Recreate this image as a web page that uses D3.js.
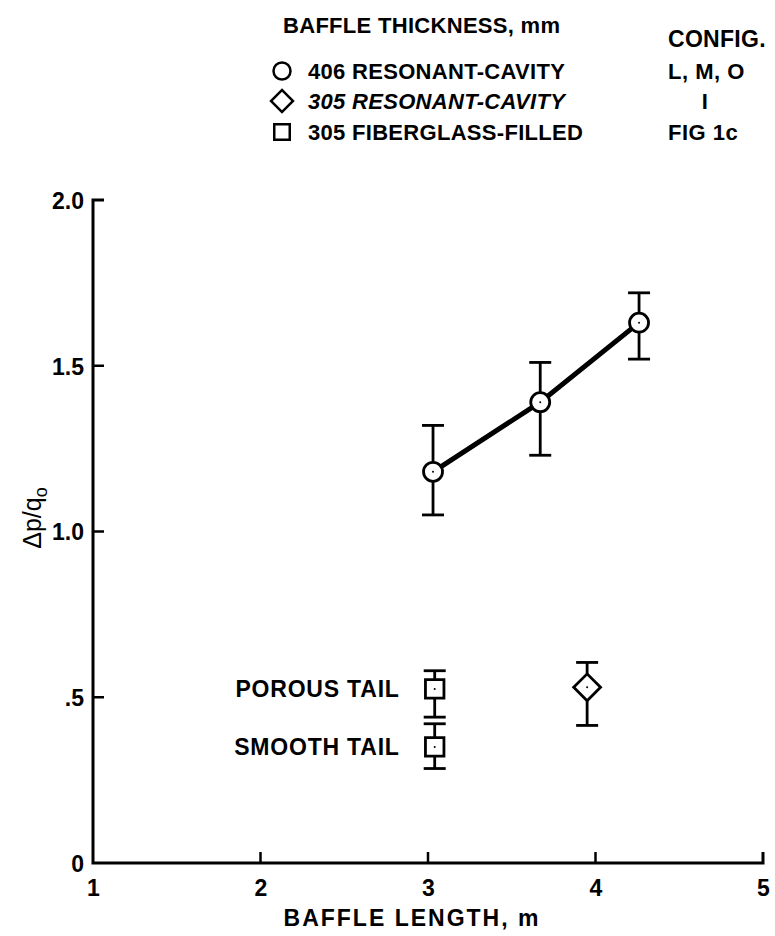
<!DOCTYPE html>
<html>
<head>
<meta charset="utf-8">
<script src="https://cdn.jsdelivr.net/npm/d3@7"></script>
<style>
  html, body { margin: 0; padding: 0; background: #fff; }
  svg text { font-family: "Liberation Sans", Arial, Helvetica, sans-serif; font-weight: bold; fill: #000; }
</style>
</head>
<body>
<svg id="chart" width="775" height="936"></svg>
<script>
// Baffle thickness 406 mm, resonant-cavity (configs L, M, O)
const cavity406Length = [3.03, 3.67, 4.26];
const cavity406Value  = [1.18, 1.39, 1.63];
const cavity406Low    = [1.05, 1.23, 1.52];
const cavity406High   = [1.32, 1.51, 1.72];

// Baffle thickness 305 mm, resonant-cavity (config I)
const cavity305Length = [3.95];
const cavity305Value  = [0.53];
const cavity305Low    = [0.415];
const cavity305High   = [0.605];

// Baffle thickness 305 mm, fiberglass-filled (Fig 1c)
const fiberLength = [3.04, 3.04];
const fiberValue  = [0.525, 0.35];
const fiberLow    = [0.44, 0.285];
const fiberHigh   = [0.58, 0.42];
const fiberNames  = ["POROUS TAIL", "SMOOTH TAIL"];

// Axis ticks
const xTicks = [1, 2, 3, 4, 5];
const xTickLabels = ["1", "2", "3", "4", "5"];
const yTicks = [0, 0.5, 1.0, 1.5, 2.0];
const yTickLabels = ["0", ".5", "1.0", "1.5", "2.0"];

// Legend
const legendTitle = "BAFFLE THICKNESS, mm";
const configTitle = "CONFIG.";
const legendSymbols = ["circle", "diamond", "square"];
const legendLabels = ["406 RESONANT-CAVITY", "305 RESONANT-CAVITY", "305 FIBERGLASS-FILLED"];
const configLabels = ["L, M, O", "I", "FIG 1c"];

const svg = d3.select("#chart");

const x = d3.scaleLinear().domain([1, 5]).range([93, 763]);
const y = d3.scaleLinear().domain([0, 2]).range([863, 200]);

const FS = 23;   // plot lettering
const LFS = 22;  // legend lettering

// ---- axes ----
const xAxis = d3.axisBottom(x).tickValues(xTicks).tickSize(0).tickFormat((d, i) => xTickLabels[i]);
const gx = svg.append("g").attr("transform", `translate(0,${y(0)})`).call(xAxis);
gx.select(".domain").remove();
gx.selectAll("text").attr("dy", null).attr("y", 33).style("font-size", FS + "px").attr("font-family", null);

const yAxis = d3.axisLeft(y).tickValues(yTicks).tickSize(0).tickFormat((d, i) => yTickLabels[i]);
const gy = svg.append("g").attr("transform", `translate(${x(1)},0)`).call(yAxis);
gy.select(".domain").remove();
gy.selectAll("text").attr("x", -9).attr("dy", "0.36em").style("font-size", FS + "px").attr("font-family", null);

// axis lines with inward ticks
svg.append("path")
  .attr("d", `M${x(1) + 11},${y(2)} H${x(1)} V${y(0)} H${x(5)} V${y(0) - 11}`)
  .attr("fill", "none").attr("stroke", "#000").attr("stroke-width", 3)
  .attr("stroke-linejoin", "miter");
svg.append("g").selectAll("line").data(yTicks.filter(d => d > 0 && d < 2)).join("line")
  .attr("x1", x(1)).attr("x2", x(1) + 11).attr("y1", d => y(d)).attr("y2", d => y(d))
  .attr("stroke", "#000").attr("stroke-width", 2.5);
svg.append("g").selectAll("line").data(xTicks.filter(d => d > 1 && d < 5)).join("line")
  .attr("x1", d => x(d)).attr("x2", d => x(d)).attr("y1", y(0)).attr("y2", y(0) - 11)
  .attr("stroke", "#000").attr("stroke-width", 2.5);

// axis titles
svg.append("text")
  .attr("x", 412).attr("y", 926)
  .attr("text-anchor", "middle").style("font-size", FS + "px").style("letter-spacing", "2px")
  .text("BAFFLE LENGTH, m");

const yTitle = svg.append("text")
  .attr("transform", `translate(41,518) rotate(-90)`)
  .attr("text-anchor", "middle").style("font-size", "25px").style("font-weight", "normal");
yTitle.append("tspan").text("Δp/q");
yTitle.append("tspan").attr("dy", 6).style("font-size", "18px").text("o");

// ---- error bars ----
function errorBars(lengths, lows, highs, capHalf) {
  const g = svg.append("g").attr("stroke", "#000").attr("stroke-width", 2.8).attr("fill", "none");
  const idx = d3.range(lengths.length);
  g.selectAll("line.v").data(idx).join("line").attr("class", "v")
    .attr("x1", i => x(lengths[i])).attr("x2", i => x(lengths[i]))
    .attr("y1", i => y(lows[i])).attr("y2", i => y(highs[i]));
  g.selectAll("line.hi").data(idx).join("line").attr("class", "hi")
    .attr("x1", i => x(lengths[i]) - capHalf).attr("x2", i => x(lengths[i]) + capHalf)
    .attr("y1", i => y(highs[i])).attr("y2", i => y(highs[i]));
  g.selectAll("line.lo").data(idx).join("line").attr("class", "lo")
    .attr("x1", i => x(lengths[i]) - capHalf).attr("x2", i => x(lengths[i]) + capHalf)
    .attr("y1", i => y(lows[i])).attr("y2", i => y(lows[i]));
}

errorBars(cavity406Length, cavity406Low, cavity406High, 11);
errorBars(cavity305Length, cavity305Low, cavity305High, 11);
errorBars(fiberLength, fiberLow, fiberHigh, 11);

// trend line through the 406 mm points
const line = d3.line().x(i => x(cavity406Length[i])).y(i => y(cavity406Value[i]));
svg.append("path").attr("d", line(d3.range(cavity406Length.length)))
  .attr("fill", "none").attr("stroke", "#000").attr("stroke-width", 5);

// ---- markers ----
const sym = {
  circle: d3.symbol().type(d3.symbolCircle).size(Math.PI * 9.5 * 9.5),
  diamond: d3.symbol().type(d3.symbolSquare).size(19 * 19),
  square: d3.symbol().type(d3.symbolSquare).size(18.5 * 18.5)
};

function markers(kind, lengths, values) {
  const g = svg.append("g");
  const idx = d3.range(lengths.length);
  g.selectAll("path").data(idx).join("path")
    .attr("d", sym[kind]())
    .attr("transform", i => `translate(${x(lengths[i])},${y(values[i])})` + (kind === "diamond" ? " rotate(45)" : ""))
    .attr("fill", "#fff").attr("stroke", "#000").attr("stroke-width", 2.8);
  g.selectAll("circle").data(idx).join("circle")
    .attr("cx", i => x(lengths[i])).attr("cy", i => y(values[i])).attr("r", 1)
    .attr("fill", "#000");
}

markers("circle", cavity406Length, cavity406Value);
markers("diamond", cavity305Length, cavity305Value);
markers("square", fiberLength, fiberValue);

// labels for the fiberglass-filled points
svg.append("g").selectAll("text").data(d3.range(fiberNames.length)).join("text")
  .attr("x", i => x(fiberLength[i]) - 35)
  .attr("y", i => y(fiberValue[i]))
  .attr("dy", "0.36em")
  .attr("text-anchor", "end")
  .style("font-size", FS + "px").style("letter-spacing", "0.8px")
  .text(i => fiberNames[i]);

// ---- legend ----
const legX = 282, textX = 308, cfgX = 668;
const rowY = [71, 101, 132];

svg.append("text").attr("x", 283).attr("y", 33).style("font-size", LFS + "px").style("letter-spacing", "0.3px").text(legendTitle);
svg.append("text").attr("x", cfgX).attr("y", 47).style("font-size", FS + "px").style("letter-spacing", "0.3px").text(configTitle);

const legendSym = {
  circle: d3.symbol().type(d3.symbolCircle).size(Math.PI * 8.5 * 8.5),
  diamond: d3.symbol().type(d3.symbolSquare).size(15.5 * 15.5),
  square: d3.symbol().type(d3.symbolSquare).size(15.5 * 15.5)
};

const rows = svg.append("g").selectAll("g").data(d3.range(legendLabels.length)).join("g");
rows.append("path")
  .attr("d", i => legendSym[legendSymbols[i]]())
  .attr("transform", i => `translate(${legX},${rowY[i]})` + (legendSymbols[i] === "diamond" ? " rotate(45)" : ""))
  .attr("fill", "none").attr("stroke", "#000").attr("stroke-width", 2.5);
rows.append("text")
  .attr("x", textX).attr("y", i => rowY[i]).attr("dy", "0.36em")
  .style("font-size", LFS + "px").style("letter-spacing", "0.3px")
  .style("font-style", i => i === 1 ? "italic" : "normal")
  .text(i => legendLabels[i]);
rows.append("text")
  .attr("x", i => i === 1 ? 705 : cfgX).attr("y", i => rowY[i]).attr("dy", "0.36em")
  .attr("text-anchor", i => i === 1 ? "middle" : "start")
  .style("font-size", LFS + "px").style("letter-spacing", "0.5px")
  .text(i => configLabels[i]);
</script>
</body>
</html>
